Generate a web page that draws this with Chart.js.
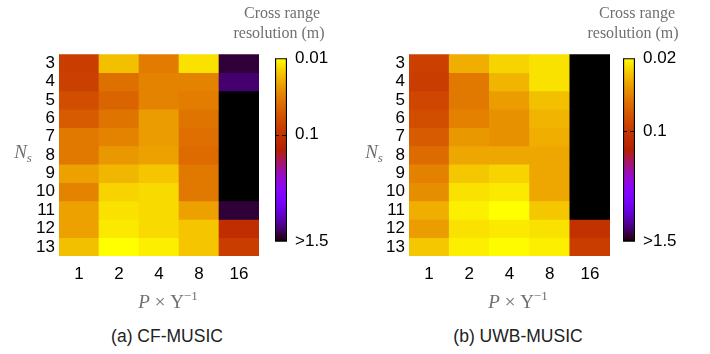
<!DOCTYPE html>
<html><head><meta charset="utf-8">
<script src="https://cdn.jsdelivr.net/npm/chart.js@4.4.0/dist/chart.umd.min.js"></script>
<style>
body{margin:0;background:#fff;}
#wrap{position:relative;width:710px;height:354px;overflow:hidden;background:#fff;}
.box{position:absolute;}
.t{position:absolute;white-space:nowrap;transform:translate(-50%,-50%);line-height:1;}
.serif{font-family:"Liberation Serif","DejaVu Serif",serif;color:#707070;font-size:16px;}
.big{font-size:19px;}
.sans{font-family:"Liberation Sans",Arial,sans-serif;color:#222;font-size:17.5px;}
sup{font-size:13px;vertical-align:8px;}
sub{font-size:13px;vertical-align:-4px;}
</style></head>
<body>
<div id="wrap">
  <div class="box" style="left:0;top:40px;width:270px;height:260px;"><canvas id="hmA" width="270" height="260"></canvas></div>
  <div class="box" style="left:350px;top:40px;width:270px;height:260px;"><canvas id="hmB" width="270" height="260"></canvas></div>
  <div class="box" style="left:262px;top:40px;width:90px;height:220px;"><canvas id="cbA" width="90" height="220"></canvas></div>
  <div class="box" style="left:610px;top:40px;width:100px;height:220px;"><canvas id="cbB" width="100" height="220"></canvas></div>

  <div class="t serif" style="left:282px;top:13px;">Cross range</div>
  <div class="t serif" style="left:279px;top:33px;">resolution (m)</div>
  <div class="t serif" style="left:637px;top:13px;">Cross range</div>
  <div class="t serif" style="left:633px;top:33px;">resolution (m)</div>

  <div class="t serif big" style="left:23px;top:153px;"><i>N</i><sub><i>s</i></sub></div>
  <div class="t serif big" style="left:374px;top:153px;"><i>N</i><sub><i>s</i></sub></div>

  <div class="t serif big" style="left:168px;top:300px;"><i>P</i> × Υ<sup>−1</sup></div>
  <div class="t serif big" style="left:518px;top:300px;"><i>P</i> × Υ<sup>−1</sup></div>

  <div class="t sans" style="left:167px;top:337px;">(a) CF-MUSIC</div>
  <div class="t sans" style="left:518px;top:337px;">(b) UWB-MUSIC</div>
</div>
<script>
// ---------- data ----------
const nsLabels = ['3','4','5','6','7','8','9','10','11','12','13'];
const pLabels = ['1','2','4','8','16'];

// cross range resolution (m), rows = Ns 3..13, cols = P x Upsilon^-1 1,2,4,8,16
const cfMusic = [
  [0.0815, 0.0164, 0.033, 0.0125, 1.27],
  [0.077, 0.0377, 0.030, 0.030, 1.08],
  [0.062, 0.044, 0.030, 0.032, 1.5],
  [0.050, 0.036, 0.023, 0.036, 1.5],
  [0.034, 0.030, 0.023, 0.038, 1.5],
  [0.034, 0.024, 0.022, 0.040, 1.5],
  [0.022, 0.018, 0.0156, 0.034, 1.5],
  [0.030, 0.0139, 0.0132, 0.034, 1.5],
  [0.022, 0.0125, 0.0132, 0.022, 1.27],
  [0.022, 0.0118, 0.0132, 0.0156, 0.111],
  [0.0164, 0.010, 0.0112, 0.0156, 0.0815]
];
const uwbMusic = [
  [0.089, 0.0325, 0.0255, 0.0235, 1.5],
  [0.093, 0.0486, 0.0312, 0.0235, 1.5],
  [0.082, 0.0486, 0.0367, 0.0288, 1.5],
  [0.076, 0.045, 0.040, 0.0312, 1.5],
  [0.065, 0.038, 0.040, 0.0325, 1.5],
  [0.055, 0.034, 0.034, 0.034, 1.5],
  [0.045, 0.0276, 0.0255, 0.034, 1.5],
  [0.041, 0.0235, 0.0226, 0.034, 1.5],
  [0.0325, 0.0217, 0.020, 0.0276, 1.5],
  [0.0367, 0.0235, 0.0226, 0.0235, 0.110],
  [0.0276, 0.0217, 0.0204, 0.0217, 0.093]
];

const cbValuesA = [0.01, 0.1, 1.5];
const cbTicksA = ['0.01', '0.1', '>1.5'];
const cbValuesB = [0.02, 0.1, 1.5];
const cbTicksB = ['0.02', '0.1', '>1.5'];

// ---------- colour scale (gnuplot default palette 7,5,15) ----------
const cbFracA = [1, 0.583, 0];
const cbFracB = [1, 0.602, 0];

function pal(x){
  x = Math.max(0, Math.min(1, x));
  const r = Math.sqrt(x), g = x*x*x, b = Math.max(0, Math.sin(2*Math.PI*x));
  return 'rgb(' + Math.round(r*255) + ',' + Math.round(g*255) + ',' + Math.round(b*255) + ')';
}
function frac(v, vals, fr){
  const L = Math.log10;
  if (v <= vals[0]) return fr[0];
  if (v >= vals[2]) return fr[2];
  if (v <= vals[1]){
    const t = (L(v)-L(vals[0]))/(L(vals[1])-L(vals[0]));
    return fr[0] + t*(fr[1]-fr[0]);
  }
  const t = (L(v)-L(vals[1]))/(L(vals[2])-L(vals[1]));
  return fr[1] + t*(fr[2]-fr[1]);
}

Chart.defaults.font.family = '"Liberation Sans", Arial, sans-serif';
Chart.defaults.font.size = 17;
Chart.defaults.color = '#000';
Chart.defaults.animation = false;

function heatmap(id, data, vals, fr, padRight){
  const datasets = data.map((row, i) => ({
    label: 'Ns ' + nsLabels[i],
    data: row.map(() => 1),
    backgroundColor: row.map(v => pal(frac(v, vals, fr))),
    borderWidth: 0,
    barPercentage: 1,
    categoryPercentage: 1,
    stack: 's'
  }));
  new Chart(document.getElementById(id), {
    type: 'bar',
    data: { labels: pLabels, datasets },
    options: {
      responsive: false,
      layout: { padding: { top: 8, right: padRight, left: 0, bottom: 0 } },
      plugins: { legend: { display: false }, tooltip: { enabled: false } },
      scales: {
        x: {
          stacked: true,
          grid: { display: false, drawTicks: false },
          border: { display: false },
          ticks: { padding: 8, color: '#000' },
          afterFit: s => { s.height = 44; }
        },
        y: {
          stacked: true,
          reverse: true,
          min: 0, max: nsLabels.length,
          grid: { display: false, drawTicks: false },
          border: { display: false },
          afterBuildTicks: s => { s.ticks = nsLabels.map((_, i) => ({ value: i + 0.5 })); },
          ticks: { autoSkip: false, padding: 4, color: '#000', callback: (v, i) => nsLabels[i] },
          afterFit: s => { s.width = 59; }
        }
      }
    }
  });
}

const dashPlugin = {
  id: 'midDash',
  afterDatasetsDraw(chart, args, opts){
    const ca = chart.chartArea, y = chart.scales.y.getPixelForValue(opts.value);
    const c = chart.ctx;
    c.save();
    c.strokeStyle = '#000'; c.lineWidth = 1.2; c.setLineDash([4, 3]);
    c.beginPath(); c.moveTo(ca.left, Math.round(y) + 0.5); c.lineTo(ca.right, Math.round(y) + 0.5); c.stroke();
    c.restore();
  }
};

function colorbar(id, vals, ticks, fr, axisW){
  new Chart(document.getElementById(id), {
    type: 'bar',
    data: { labels: ['cb'], datasets: [{
      data: [[fr[2], fr[0]]],
      backgroundColor: ctx => {
        const ca = ctx.chart.chartArea;
        if (!ca) return '#000';
        const g = ctx.chart.ctx.createLinearGradient(0, ca.bottom, 0, ca.top);
        for (let i = 0; i <= 60; i++) g.addColorStop(i/60, pal(i/60));
        return g;
      },
      borderColor: '#000', borderWidth: 1.5, borderSkipped: false,
      barPercentage: 1, categoryPercentage: 1
    }]},
    options: {
      responsive: false,
      layout: { padding: { top: 16, left: 13, right: 0, bottom: 12 } },
      plugins: { legend: { display: false }, tooltip: { enabled: false }, midDash: { value: frac(vals[1], vals, fr) } },
      scales: {
        x: { display: false },
        y: {
          position: 'right', min: 0, max: 1,
          grid: { display: false, drawTicks: false },
          border: { display: false },
          afterBuildTicks: s => { s.ticks = vals.map(v => ({ value: frac(v, vals, fr) })); },
          ticks: { autoSkip: false, padding: 8, color: '#000', font: { size: 17 }, callback: (v, i) => ticks[i] },
          afterFit: s => { s.width = axisW; }
        }
      }
    },
    plugins: [dashPlugin]
  });
}

heatmap('hmA', cfMusic, cbValuesA, cbFracA, 11);
heatmap('hmB', uwbMusic, cbValuesB, cbFracB, 10);
colorbar('cbA', cbValuesA, cbTicksA, cbFracA, 65);
colorbar('cbB', cbValuesB, cbTicksB, cbFracB, 75);
</script>
</body></html>
